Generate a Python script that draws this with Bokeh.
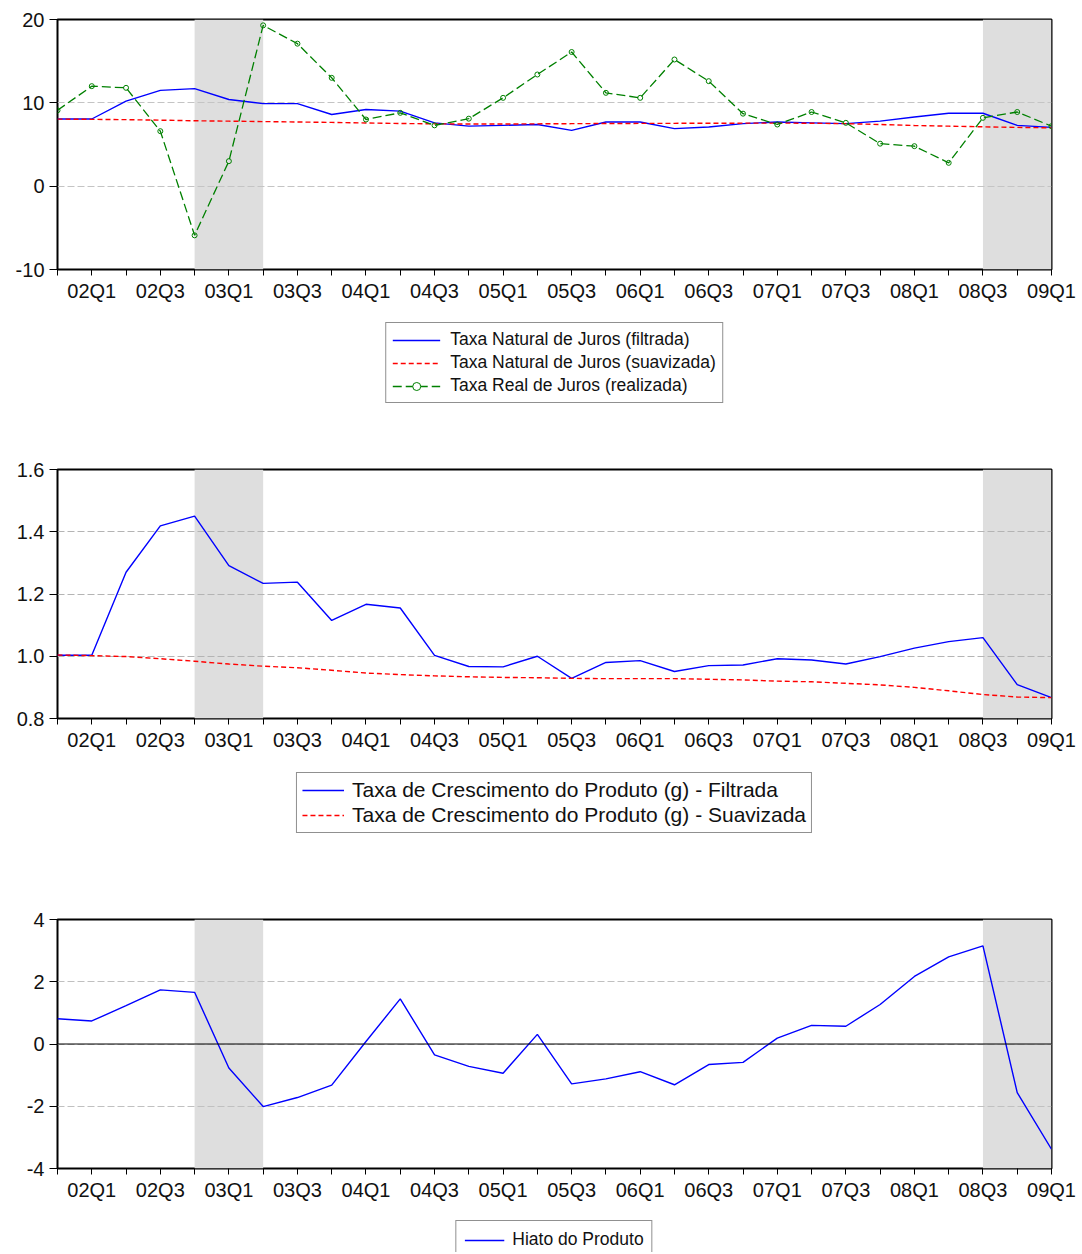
from bokeh.plotting import figure
from bokeh.models import FixedTicker, BoxAnnotation, Span, Legend, LegendItem, PrintfTickFormatter
from bokeh.layouts import column
from bokeh.embed import file_html
from bokeh.resources import INLINE

quarters = ["01Q4", "02Q1", "02Q2", "02Q3", "02Q4", "03Q1", "03Q2", "03Q3", "03Q4",
            "04Q1", "04Q2", "04Q3", "04Q4", "05Q1", "05Q2", "05Q3", "05Q4", "06Q1",
            "06Q2", "06Q3", "06Q4", "07Q1", "07Q2", "07Q3", "07Q4", "08Q1", "08Q2",
            "08Q3", "08Q4", "09Q1"]
tick_labels = ["02Q1", "02Q3", "03Q1", "03Q3", "04Q1", "04Q3", "05Q1", "05Q3",
               "06Q1", "06Q3", "07Q1", "07Q3", "08Q1", "08Q3", "09Q1"]
shade_periods = [("02Q4", "03Q2"), ("08Q3", "09Q1")]

# Panel 1
taxa_real = [9.1, 12.0, 11.8, 6.6, -5.9, 3.0, 19.3, 17.1, 13.0, 8.0, 8.8, 7.3, 8.1, 10.6, 13.4,
             16.1, 11.2, 10.6, 15.2, 12.6, 8.7, 7.4, 8.9, 7.6, 5.1, 4.8, 2.8, 8.2, 8.9, 7.2]
natural_filtrada = [8.06, 8.06, 10.2, 11.5, 11.7, 10.4, 9.9, 9.9, 8.6, 9.2, 9.0, 7.6, 7.2, 7.3, 7.4,
                    6.7, 7.7, 7.7, 6.9, 7.1, 7.5, 7.7, 7.6, 7.5, 7.8, 8.3, 8.75, 8.75, 7.3, 7.06]
natural_suavizada = [8.05, 8.02, 7.98, 7.92, 7.85, 7.80, 7.75, 7.70, 7.65, 7.58, 7.52, 7.48, 7.46, 7.46, 7.48,
                     7.50, 7.52, 7.53, 7.54, 7.55, 7.56, 7.57, 7.55, 7.50, 7.40, 7.28, 7.20, 7.12, 7.05, 7.00]
# Panel 2
g_filtrada = [1.003, 1.003, 1.27, 1.419, 1.45, 1.291, 1.234, 1.238, 1.115, 1.167, 1.155, 1.003, 0.967, 0.966, 1.0,
              0.929, 0.98, 0.986, 0.951, 0.970, 0.972, 0.992, 0.988, 0.975, 0.999, 1.026, 1.047, 1.06, 0.909, 0.867]
g_suavizada = [1.004, 1.002, 0.999, 0.992, 0.984, 0.975, 0.968, 0.963, 0.955, 0.946, 0.941, 0.937, 0.934, 0.932, 0.931,
               0.929, 0.928, 0.928, 0.928, 0.926, 0.924, 0.920, 0.918, 0.913, 0.908, 0.900, 0.889, 0.877, 0.869, 0.867]
# Panel 3
hiato = [0.81, 0.74, 1.23, 1.74, 1.66, -0.77, -2.01, -1.72, -1.32, 0.08, 1.45, -0.35, -0.72, -0.94, 0.31,
         -1.28, -1.12, -0.89, -1.31, -0.66, -0.59, 0.19, 0.60, 0.57, 1.27, 2.17, 2.80, 3.15, -1.56, -3.38]

y1_ticks = [-10, 0, 10, 20]
y2_ticks = [0.8, 1.0, 1.2, 1.4, 1.6]
y3_ticks = [-4, -2, 0, 2, 4]

x = list(range(len(quarters)))
FONT = "Liberation Sans"
TXT = "#111111"
BLUE, RED, GREEN = "#0000ff", "#ff0000", "#008000"
PLOT_BOTTOM = 42


def make_fig(frame_h, yticks, fmt, grid_color):
    height = 19 + frame_h + PLOT_BOTTOM
    p = figure(width=1082, height=height, x_range=(x[0], x[-1]), y_range=(yticks[0], yticks[-1]),
               output_backend="svg", toolbar_location=None,
               min_border_left=57, min_border_right=31, min_border_top=19,
               min_border_bottom=PLOT_BOTTOM)
    p.background_fill_color = "white"
    p.border_fill_color = "white"
    p.outline_line_color = "black"
    p.outline_line_width = 2
    p.outline_line_alpha = 1
    for b, e in shade_periods:
        p.add_layout(BoxAnnotation(left=quarters.index(b), right=quarters.index(e),
                                   fill_color="#dedede", fill_alpha=1, line_alpha=0, level="image"))
    p.xgrid.visible = False
    p.ygrid.ticker = FixedTicker(ticks=yticks[1:-1])
    p.ygrid.grid_line_color = grid_color
    p.ygrid.grid_line_dash = "7 3"
    p.ygrid.grid_line_width = 1
    xa = p.xaxis[0]
    xa.ticker = FixedTicker(ticks=x)
    xa.major_label_overrides = {i: (quarters[i] if quarters[i] in tick_labels else "") for i in x}
    xa.major_tick_out = 6
    xa.major_tick_in = 0
    xa.minor_tick_out = 0
    xa.major_label_standoff = 4
    xa.major_label_text_font = FONT
    xa.major_label_text_font_size = "20px"
    xa.major_label_text_color = TXT
    xa.axis_line_color = None
    xa.major_tick_line_color = "black"
    ya = p.yaxis[0]
    ya.ticker = FixedTicker(ticks=yticks)
    ya.formatter = PrintfTickFormatter(format=fmt)
    ya.major_tick_out = 8
    ya.major_tick_in = 0
    ya.minor_tick_out = 0
    ya.major_label_standoff = 5
    ya.major_label_text_font = FONT
    ya.major_label_text_font_size = "20px"
    ya.major_label_text_color = TXT
    ya.axis_line_color = None
    ya.major_tick_line_color = "black"
    return p


def legend_fig(height, entries, gap, font_size, glyph_w, standoff, row_h, spacing, pad):
    # the series are drawn outside this strip's x range: only their legend glyphs show
    q = figure(width=1082, height=height, x_range=(-100, -99), y_range=(0, 1),
               output_backend="svg", toolbar_location=None,
               x_axis_location=None, y_axis_location=None,
               min_border_left=57, min_border_right=31, min_border_top=0, min_border_bottom=0)
    q.outline_line_color = None
    q.grid.visible = False
    q.background_fill_color = "white"
    q.border_fill_color = "white"
    items = []
    for label, values, color, dash, lw, marker in entries:
        rs = [q.line(x, values, line_color=color, line_width=lw, line_dash=dash)]
        if marker:
            rs.append(q.scatter(x, values, marker="circle", size=4, line_color=color,
                                fill_color="white", line_width=1))
        items.append(LegendItem(label=label, renderers=rs))
    leg = Legend(items=items, location="top_center")
    leg.label_text_font = FONT
    leg.label_text_font_size = font_size
    leg.label_text_color = TXT
    leg.glyph_width = glyph_w
    leg.glyph_height = row_h
    leg.label_height = row_h
    leg.label_standoff = standoff
    leg.spacing = spacing
    leg.padding = pad
    leg.margin = gap
    leg.border_line_color = "#222222"
    leg.border_line_width = 1
    leg.background_fill_color = "white"
    leg.background_fill_alpha = 1
    leg.label_text_baseline = "middle"
    q.add_layout(leg, "center")
    return q


# ---------- Panel 1 ----------
p1 = make_fig(250, y1_ticks, "%d", "#c4c4c4")
p1.line(x, natural_filtrada, line_color=BLUE, line_width=1.4)
p1.line(x, natural_suavizada, line_color=RED, line_width=1.4, line_dash="5 3")
p1.line(x, taxa_real, line_color=GREEN, line_width=1.3, line_dash="9 4")
p1.scatter(x, taxa_real, marker="circle", size=5, line_color=GREEN, fill_alpha=0, line_width=1)
l1 = legend_fig(450 - p1.height,
                [("Taxa Natural de Juros (filtrada)", natural_filtrada, BLUE, "solid", 1.4, False),
                 ("Taxa Natural de Juros (suavizada)", natural_suavizada, RED, "5 3", 1.4, False),
                 ("Taxa Real de Juros (realizada)", taxa_real, GREEN, "9 4", 1.3, True)],
                322 - p1.height, "17.5px", 48, 10, 20, 2, 6)

# ---------- Panel 2 ----------
p2 = make_fig(249, y2_ticks, "%.1f", "#b4b4b4")
p2.line(x, g_filtrada, line_color=BLUE, line_width=1.4)
p2.line(x, g_suavizada, line_color=RED, line_width=1.4, line_dash="5 3")
l2 = legend_fig(450 - p2.height,
                [("Taxa de Crescimento do Produto (g) - Filtrada", g_filtrada, BLUE, "solid", 1.4, False),
                 ("Taxa de Crescimento do Produto (g) - Suavizada", g_suavizada, RED, "5 3", 1.4, False)],
                772 - 450 - p2.height, "21px", 42, 8, 24, 1, 5)

# ---------- Panel 3 ----------
p3 = make_fig(249, y3_ticks, "%d", "#c0c0c0")
p3.add_layout(Span(location=0, dimension="width", line_color="black", line_width=1))
p3.line(x, hiato, line_color=BLUE, line_width=1.4)
l3 = legend_fig(1252 - 900 - p3.height,
                [("Hiato do Produto", hiato, BLUE, "solid", 1.4, False)],
                1220 - 900 - p3.height, "17.5px", 40, 8, 20, 0, 8)

layout = column(p1, l1, p2, l2, p3, l3)
open("out.html", "w").write(file_html(layout, INLINE))
